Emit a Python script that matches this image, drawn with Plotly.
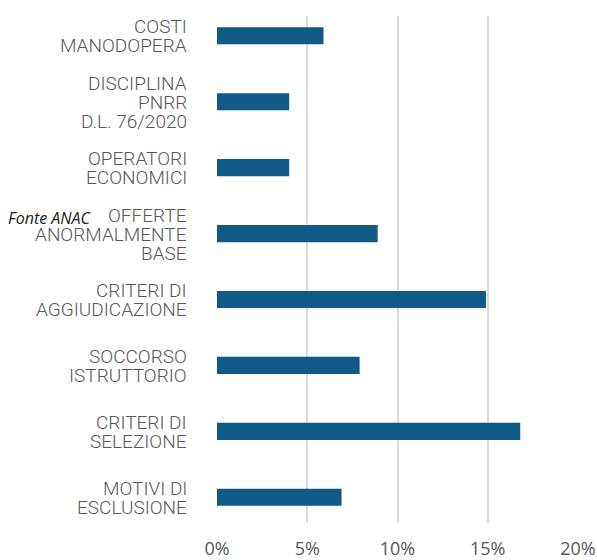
import plotly.graph_objects as go

# Categories listed top to bottom; "\n" separates the lines of each label
categories = [
    "COSTI\nMANODOPERA",
    "DISCIPLINA\nPNRR\nD.L. 76/2020",
    "OPERATORI\nECONOMICI",
    "OFFERTE\nANORMALMENTE\nBASE",
    "CRITERI DI\nAGGIUDICAZIONE",
    "SOCCORSO\nISTRUTTORIO",
    "CRITERI DI\nSELEZIONE",
    "MOTIVI DI\nESCLUSIONE",
]
shares = [5.9, 4.0, 4.0, 8.9, 14.9, 7.9, 16.8, 6.9]
x_ticks = [0, 5, 10, 15, 20]
x_tick_labels = ["0%", "5%", "10%", "15%", "20%"]
source_note = "Fonte ANAC"

BAR_COLOR = "#115a88"
TEXT_COLOR = "#575757"
GRID_COLOR = "#d9d9d9"
LABEL_SIZE = 19
LINE_STEP = 19  # px between lines of a category label

fig = go.Figure(
    go.Bar(
        x=shares,
        y=categories,
        orientation="h",
        marker=dict(color=BAR_COLOR, line=dict(width=0)),
        hoverinfo="x",
    )
)

fig.update_layout(
    width=597,
    height=560,
    margin=dict(l=217, r=19, t=16, b=37),
    paper_bgcolor="white",
    plot_bgcolor="white",
    bargap=0.74,
    showlegend=False,
    font=dict(family="Roboto", color=TEXT_COLOR),
)

fig.update_xaxes(
    range=[0, 20],
    tickvals=x_ticks,
    ticktext=x_tick_labels,
    showgrid=True,
    gridcolor=GRID_COLOR,
    gridwidth=2,
    zeroline=False,
    showline=False,
    ticks="",
    automargin=False,
    ticklabelstandoff=13,
    tickfont=dict(family="Open Sans", size=18, color=TEXT_COLOR),
)

fig.update_yaxes(
    categoryorder="array",
    categoryarray=categories,
    range=[7.39, -0.30],
    showgrid=False,
    zeroline=False,
    showline=False,
    ticks="",
    showticklabels=False,
    automargin=False,
)

# Category labels, right-aligned next to the axis, tightly spaced lines
for cat in categories:
    lines = cat.split("\n")
    n = len(lines)
    for i, line in enumerate(lines):
        fig.add_annotation(
            text=line,
            xref="paper",
            yref="y",
            x=0,
            y=cat,
            xshift=-29,
            yshift=((n - 1) / 2 - i) * LINE_STEP,
            xanchor="right",
            yanchor="middle",
            height=LINE_STEP - 1,
            borderpad=0,
            showarrow=False,
            font=dict(family="Roboto", size=LABEL_SIZE, weight=300, color=TEXT_COLOR),
        )

fig.add_annotation(
    text="<i>" + source_note + "</i>",
    xref="paper",
    yref="paper",
    x=-0.585,
    y=0.6016,
    xanchor="left",
    yanchor="middle",
    showarrow=False,
    font=dict(family="Open Sans", size=16, color="#1a1a1a"),
)

fig.write_html("out.html")
